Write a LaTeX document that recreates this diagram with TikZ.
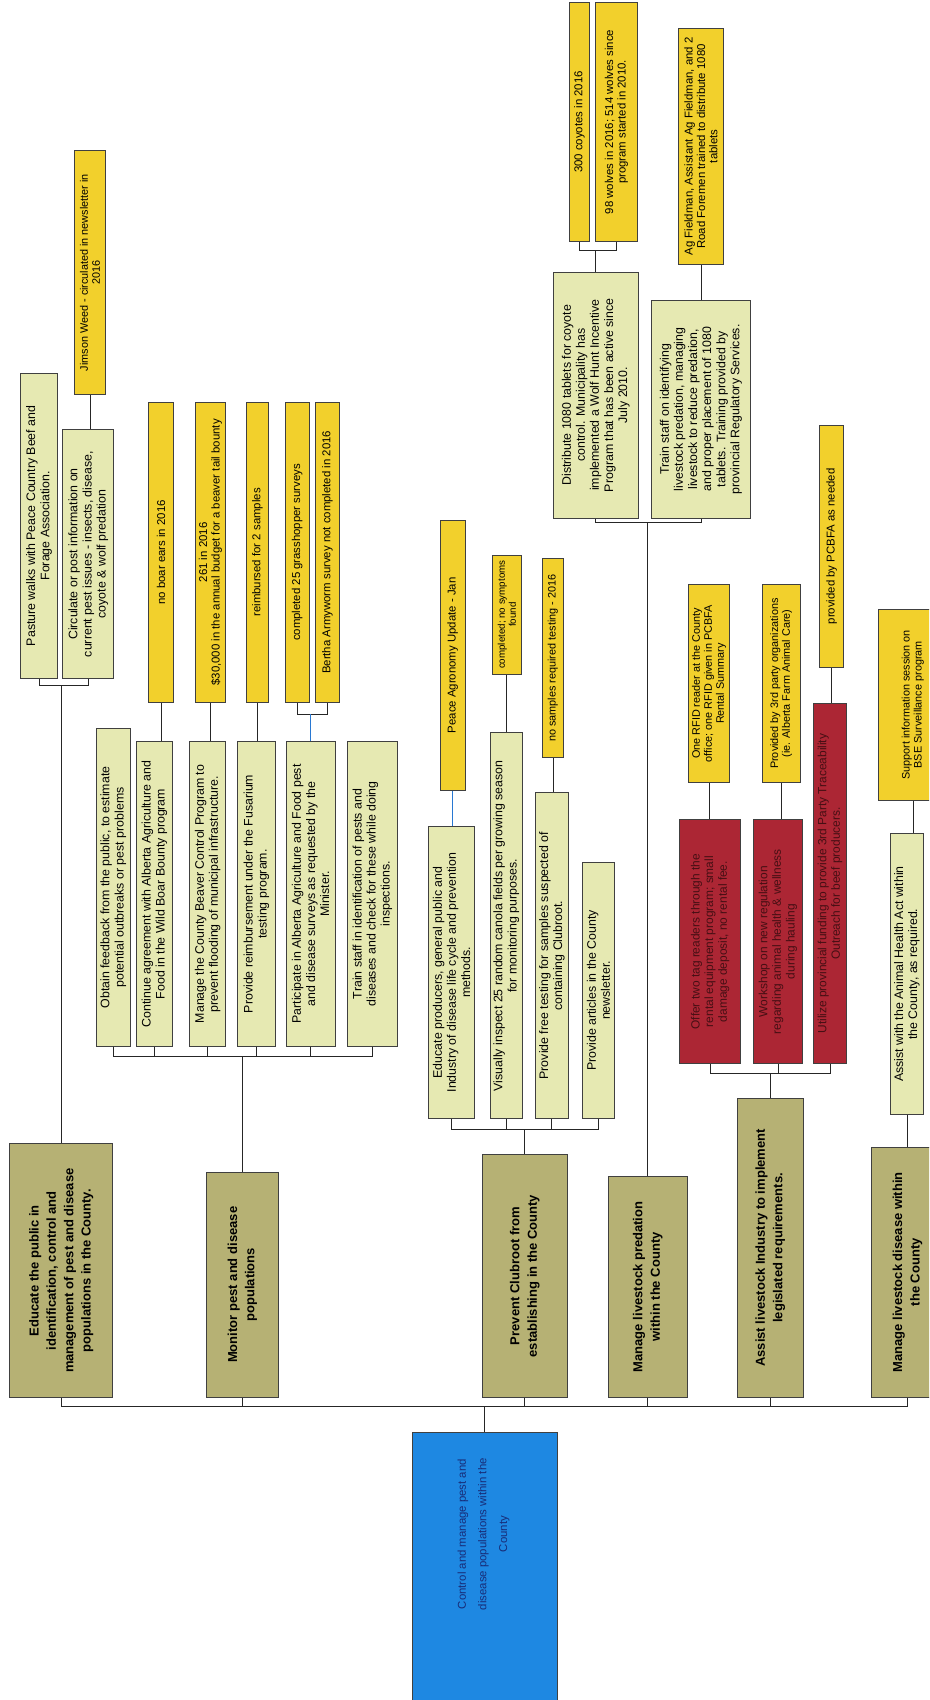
\documentclass[tikz,border=0pt]{standalone}
\usepackage{fontspec}
\setmainfont{Liberation Sans}

\definecolor{rootblue}{RGB}{30,136,226}
\definecolor{rootink}{RGB}{24,44,120}
\definecolor{goalolive}{RGB}{182,177,116}
\definecolor{taskpale}{RGB}{230,233,178}
\definecolor{noteyellow}{RGB}{242,208,44}
\definecolor{alertred}{RGB}{172,38,52}
\definecolor{alertink}{RGB}{70,15,20}
\definecolor{linkblue}{RGB}{40,120,210}

\begin{document}
\begin{tikzpicture}[x=1pt,y=-1pt,
    box/.style={draw=black!75,line width=0.8pt,rotate=90,inner sep=0pt,align=center},
    sz/.style 2 args={minimum height=#1pt,minimum width=#2pt},
    goal/.style={box,fill=goalolive,font=\fontsize{12}{16}\selectfont\bfseries},
    task/.style={box,fill=taskpale,font=\fontsize{11.4}{13}\selectfont},
    note/.style={box,fill=noteyellow,font=\fontsize{10.5}{11.5}\selectfont},
    smallnote/.style={note,font=\fontsize{10}{11}\selectfont},
    alert/.style={box,fill=alertred,text=alertink,font=\fontsize{11}{12.5}\selectfont},
    link/.style={draw=black!85,line width=0.7pt},
    bluelink/.style={draw=linkblue,line width=0.8pt}]
  \useasboundingbox (0,0) rectangle (857,1568);
  \clip (0,0) rectangle (857,1568);
  \fill[white] (0,0) rectangle (857,1568);

  % root
  \node[box,fill=rootblue,sz={134}{319}] (root) at (447,1480.5) {};
  \node[rotate=90,align=center,text=rootink,font=\fontsize{10.5}{19}\selectfont] (rootlabel) at (446,1415)
    {Control and manage pest and\\disease populations within the\\County};

  % goals
  \node[goal,sz={95}{234}] (edu)  at (56.5,1172) {Educate the public in\\identification, control and\\management of pest and disease\\populations in the County.};
  \node[goal,sz={67}{208}] (mon)  at (223.5,1185) {Monitor pest and disease\\populations};
  \node[goal,sz={78}{224}] (prev) at (484,1177) {Prevent Clubroot from\\establishing in the County};
  \node[goal,sz={73}{204}] (pred) at (597.5,1187) {Manage livestock predation\\within the County};
  \node[goal,sz={61}{276}] (asst) at (710.5,1151) {Assist livestock Industry to implement\\legislated requirements.};
  \node[goal,sz={66}{231}] (dis)  at (837,1173.5) {Manage livestock disease within\\the County};

  % educate
  \node[task,sz={34}{282}] (pas) at (36,485) {Pasture walks with Peace Country Beef and\\Forage Association.};
  \node[task,sz={47}{230}] (cir) at (81.5,511) {Circulate or post information on\\current pest issues - insects, disease,\\coyote \& wolf predation};
  \node[smallnote,sz={28}{225}] (jim) at (83,251.5) {Jimson Weed - circulated in newsletter in\\2016};

  % monitor
  \node[task,sz={31}{293}] (obt) at (104.5,818.5) {Obtain feedback from the public, to estimate\\potential outbreaks or pest problems};
  \node[task,sz={33}{281}] (con) at (142.5,824.5) {Continue agreement with Alberta Agriculture and\\Food in the Wild Boar Bounty program};
  \node[task,sz={33}{281}] (bea) at (191.5,824.5) {Manage the County Beaver Control Program to\\prevent flooding of municipal infrastructure.};
  \node[task,sz={35}{281}] (rei) at (236.5,824.5) {Provide reimbursement under the Fusarium\\testing program.};
  \node[task,sz={45}{281}] (par) at (286.5,824.5) {Participate in Alberta Agriculture and Food pest\\and disease surveys as requested by the\\Minister.};
  \node[task,sz={47}{281}] (trn) at (343.5,824.5) {Train staff in identification of pests and\\diseases and check for these while doing\\inspections.};
  \node[note,sz={23}{277}] (boar) at (148.5,509.5) {no boar ears in 2016};
  \node[note,sz={28}{277}] (bty)  at (194,509.5) {261 in 2016\\\$30,000 in the annual budget for a beaver tail bounty};
  \node[note,sz={21}{277}] (rsm)  at (237.5,509.5) {reimbursed for 2 samples};
  \node[note,sz={22}{277}] (grs)  at (274,509.5) {completed 25 grasshopper surveys};
  \node[note,sz={22}{277}] (ber)  at (302,509.5) {Bertha Armyworm survey not completed in 2016};

  % clubroot
  \node[task,sz={43}{270}] (edp) at (416.5,897) {Educate producers, general public and\\Industry of disease life cycle and prevention\\methods.};
  \node[task,sz={30}{356}] (vis) at (467,854) {Visually inspect 25 random canola fields per growing season\\for monitoring purposes.};
  \node[task,sz={30}{301}] (frt) at (509,881.5) {Provide free testing for samples suspected of\\containing Clubroot.};
  \node[task,sz={30}{237}] (art) at (552,913.5) {Provide articles in the County\\newsletter.};
  \node[note,sz={23}{249}] (agr) at (417.5,604.5) {Peace Agronomy Update - Jan};
  \node[note,sz={27}{110},font=\fontsize{9}{10}\selectfont] (sym) at (467.5,567) {completed; no symptoms\\found};
  \node[smallnote,sz={20}{184}] (nst) at (510,607) {no samples required testing - 2016};

  % predation
  \node[task,sz={79}{227}] (dst) at (549.5,364.5) {Distribute 1080 tablets for coyote\\control. Municipality has\\implemented a Wolf Hunt Incentive\\Program that has been active since\\July 2010.};
  \node[task,sz={91}{201}] (tsp) at (646.5,377.5) {Train staff on identifying\\livestock predation, managing\\livestock to reduce predation,\\and proper placement of 1080\\tablets. Training provided by\\provincial Regulatory Services.};
  \node[note,sz={19}{221}] (coy) at (534.5,112.5) {300 coyotes in 2016};
  \node[note,sz={39}{221}] (wlf) at (568.5,112.5) {98 wolves in 2016; 514 wolves since\\program started in 2010.};
  \node[note,sz={41}{218}] (agf) at (646.5,135) {Ag Fieldman, Assistant Ag Fieldman, and 2\\Road Foremen trained to distribute 1080\\tablets};

  % industry
  \node[alert,sz={56}{225}] (tag)  at (655,868.5) {Offer two tag readers through the\\rental equipment program; small\\damage deposit, no rental fee.};
  \node[alert,sz={45}{225}] (shop) at (717.5,868.5) {Workshop on new regulation\\regarding animal health \& wellness\\during hauling};
  \node[alert,sz={31}{332}] (fund) at (765.5,815) {Utilize provincial funding to provide 3rd Party Traceability\\Outreach for beef producers.};
  \node[smallnote,sz={38}{183}] (rfid) at (654,630.5) {One RFID reader at the County\\office; one RFID given in PCBFA\\Rental Summary};
  \node[smallnote,sz={35}{183}] (trd)  at (720.5,630.5) {Provided by 3rd party organizations\\(ie. Alberta Farm Animal Care)};
  \node[note,sz={22}{224}] (pcb)  at (767,504) {provided by PCBFA as needed};

  % disease
  \node[task,sz={31}{259}] (ahl) at (836.5,898.5) {Assist with the Animal Health Act within\\the County, as required.};
  \node[smallnote,sz={64}{176}] (bse) at (842,650) {Support information session on\\BSE Surveillance program};

  % connectors
  \foreach \g in {edu,mon,prev,pred,asst,dis}
    \draw[link] (root.east) |- (\g.west |- 0,1297) -- (\g.west);
  \foreach \c in {pas,cir}
    \draw[link] (\c.west) |- (edu.east |- 0,632) -- (edu.east);
  \foreach \c in {obt,con,bea,rei,par,trn}
    \draw[link] (\c.west) |- (mon.east |- 0,974) -- (mon.east);
  \foreach \c in {edp,vis,frt,art}
    \draw[link] (\c.west) |- (prev.east |- 0,1042) -- (prev.east);
  \foreach \c in {dst,tsp}
    \draw[link] (\c.west) |- (pred.east |- 0,482) -- (pred.east);
  \foreach \c in {tag,shop,fund}
    \draw[link] (\c.west) |- (asst.east |- 0,990) -- (asst.east);
  \draw[link] (ahl.west) -- (ahl.west |- dis.east);

  \draw[link] (jim.west) -- (jim.west |- cir.east);
  \draw[link] (boar.west) -- (boar.west |- con.east);
  \draw[link] (bty.west) -- (bty.west |- bea.east);
  \draw[link] (rsm.west) -- (rsm.west |- rei.east);
  \draw[link] (grs.west) |- (ber.west |- 0,659) -- (ber.west);
  \draw[bluelink] (par.east) -- (par.east |- 0,659);
  \draw[bluelink] (agr.west) -- (agr.west |- edp.east);
  \draw[link] (sym.west) -- (sym.west |- vis.east);
  \draw[link] (nst.west) -- (nst.west |- frt.east);
  \draw[link] (coy.west) |- (dst.east |- 0,231) -- (dst.east);
  \draw[link] (wlf.west) |- (dst.east |- 0,231);
  \draw[link] (agf.west) -- (agf.west |- tsp.east);
  \draw[link] (rfid.west) -- (rfid.west |- tag.east);
  \draw[link] (trd.west) -- (trd.west |- shop.east);
  \draw[link] (pcb.west) -- (pcb.west |- fund.east);
  \draw[link] (bse.west) -- (bse.west |- ahl.east);
\end{tikzpicture}
\end{document}
